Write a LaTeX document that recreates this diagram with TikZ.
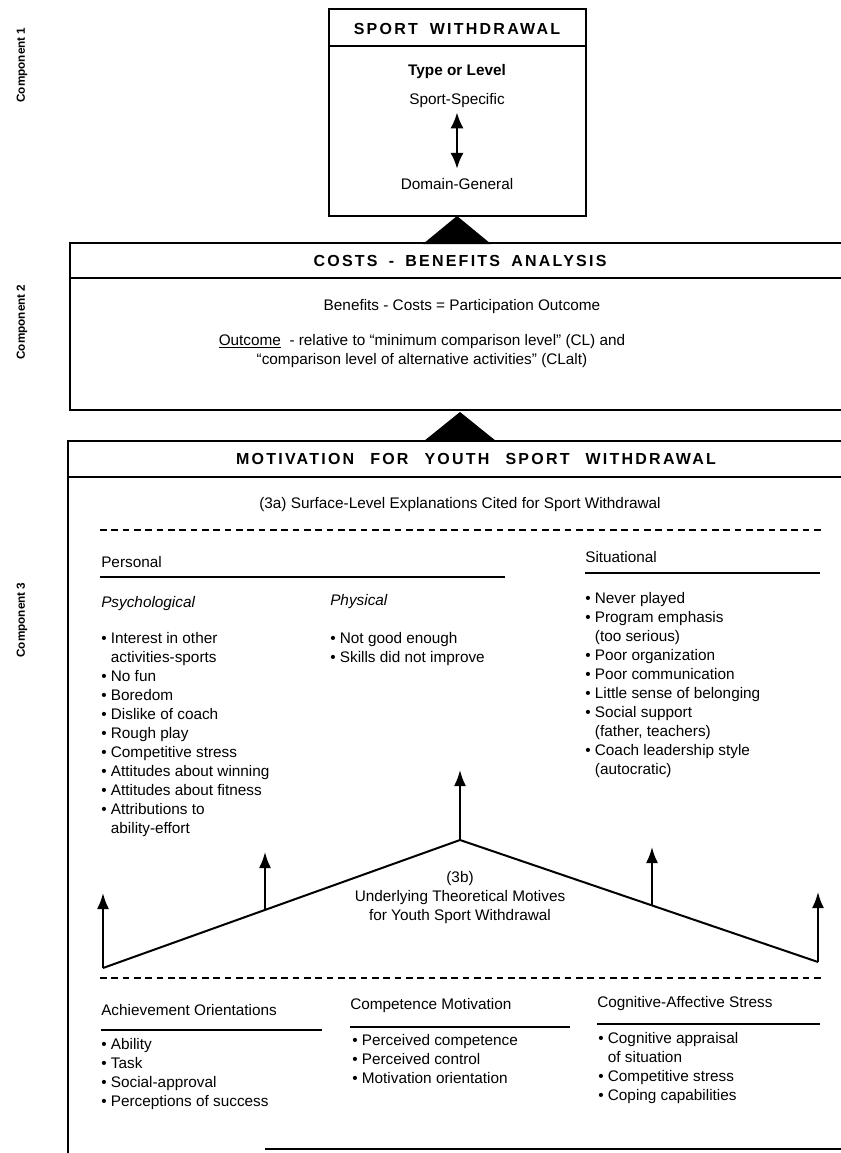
\documentclass[tikz,border=0pt]{standalone}
\usepackage{fontspec}
\setmainfont{Liberation Sans}
\usetikzlibrary{arrows.meta,calc}
\newcommand{\bl}{•\ }
\newcommand{\ind}{\phantom{•\ }}
\newcommand{\wsp}[1]{\hspace{#1em}}
\begin{document}
\begin{tikzpicture}[x=0.75pt,y=-0.75pt,
 body/.style={font=\fontsize{11.5}{14.25}\selectfont, inner sep=0pt, align=left},
 cbody/.style={body, align=center},
 head/.style={font=\fontsize{12}{15}\selectfont\bfseries\addfontfeature{LetterSpace=14}, inner sep=0pt},
 comp/.style={font=\fontsize{8.8}{10}\selectfont\bfseries, rotate=90, inner sep=0pt},
 frame/.style={line width=1.3pt},
 rule/.style={line width=1.1pt},
 dashrule/.style={line width=1.1pt, dash pattern=on 5pt off 3.5pt},
 tent/.style={line width=1.5pt},
 up/.style={line width=1.5pt, -{Latex[length=12pt,width=9pt]}},
 wedge/.style={fill=black}
]
\useasboundingbox (0,0) rectangle (841,1153);

% component labels
\node[comp] (c1) at (22,65) {Component 1};
\node[comp] (c2) at (22,322) {Component 2};
\node[comp] (c3) at (22,620) {Component 3};

% ---------- component 1 box
\draw[frame] (329,9) rectangle (586,216);
\draw[rule] (329,46) -- (586,46);
\node[head] (sw) at (457,29) {SPORT\wsp{0.75}WITHDRAWAL};
\node[body, font=\fontsize{11.5}{14}\selectfont\bfseries] (tl) at (457,72) {Type or Level};
\node[body] (ss) at (457,101) {Sport-Specific};
\node[body] (dg) at (457,184) {Domain-General};
\draw[line width=1.8pt, {Latex[length=12pt,width=10pt]}-{Latex[length=12pt,width=10pt]}, shorten <=3pt, shorten >=7pt] (ss.south) -- (dg.north);

% wedge 1
\fill[wedge] (457,216) -- (491,244) -- (423,244) -- cycle;

% ---------- component 2 box
\draw[frame] (841,243) -- (70,243) -- (70,410) -- (841,410);
\draw[rule] (70,278) -- (841,278);
\node[head] (cb) at (460,261) {COSTS\wsp{0.7}-\wsp{0.7}BENEFITS\wsp{0.7}ANALYSIS};
\node[body] (bc) at (462,307) {Benefits - Costs = Participation Outcome};
\node[cbody] (oc) at (422,351) {\underline{Outcome}\ \ - relative to “minimum comparison level” (CL) and\\“comparison level of alternative activities” (CLalt)};

% wedge 2
\fill[wedge] (460,412) -- (496,441) -- (424,441) -- cycle;

% ---------- component 3 box
\draw[frame] (841,441) -- (68,441) -- (68,1153);
\draw[rule] (68,477) -- (841,477);
\draw[frame] (265,1149) -- (841,1149);
\node[head] (mo) at (476,459) {MOTIVATION\wsp{1.0}FOR\wsp{1.0}YOUTH\wsp{1.0}SPORT\wsp{1.0}WITHDRAWAL};
\node[body] (s3a) at (460,505) {(3a) Surface-Level Explanations Cited for Sport Withdrawal};
\draw[dashrule] (100,530) -- (822,530);

\node[body, anchor=west] (pers) at (101,562) {Personal};
\draw[rule] (100,577) -- (505,577);
\node[body, anchor=west] (sit) at (585,557) {Situational};
\draw[rule] (585,573) -- (820,573);

\node[body, anchor=west, font=\fontsize{11.5}{14.25}\selectfont\itshape] (psy) at (101,604) {Psychological};
\node[body, anchor=west, font=\fontsize{11.5}{14.25}\selectfont\itshape] (phy) at (330,602) {Physical};

\node[body, anchor=north west] (psyl) at (101,632) {\bl Interest in other\\\ind activities-sports\\\bl No fun\\\bl Boredom\\\bl Dislike of coach\\\bl Rough play\\\bl Competitive stress\\\bl Attitudes about winning\\\bl Attitudes about fitness\\\bl Attributions to\\\ind ability-effort};
\node[body, anchor=north west] (phyl) at (330,632) {\bl Not good enough\\\bl Skills did not improve};
\node[body, anchor=north west] (sitl) at (585,592) {\bl Never played\\\bl Program emphasis\\\ind (too serious)\\\bl Poor organization\\\bl Poor communication\\\bl Little sense of belonging\\\bl Social support\\\ind (father, teachers)\\\bl Coach leadership style\\\ind (autocratic)};

% ---------- tent (3b)
\coordinate (L) at (103,968);
\coordinate (A) at (460,840);
\coordinate (R) at (818,962);
\coordinate (LM) at (265,910);
\coordinate (RM) at (652,905.5);
\coordinate (Lt) at (103,893);
\coordinate (LMt) at (265,852);
\coordinate (At) at (460,770);
\coordinate (RMt) at (652,847);
\coordinate (Rt) at (818,892);
\draw[tent] (L) -- (A) -- (R);
\draw[up] (L) -- (Lt);
\draw[up] (LM) -- (LMt);
\draw[up] (A) -- (At);
\draw[up] (RM) -- (RMt);
\draw[up] (R) -- (Rt);
\node[cbody] (s3b) at (460,898) {(3b)\\Underlying Theoretical Motives\\for Youth Sport Withdrawal};

\draw[dashrule] (100,978) -- (822,978);

\node[body, anchor=west] (ach) at (101,1010) {Achievement Orientations};
\draw[rule] (101,1030) -- (322,1030);
\node[body, anchor=west] (com) at (350,1006) {Competence Motivation};
\draw[rule] (350,1027) -- (570,1027);
\node[body, anchor=west] (cog) at (597,1004) {Cognitive-Affective Stress};
\draw[rule] (597,1024) -- (820,1024);

\node[body, anchor=north west] (achl) at (101,1038) {\bl Ability\\\bl Task\\\bl Social-approval\\\bl Perceptions of success};
\node[body, anchor=north west] (coml) at (352,1034) {\bl Perceived competence\\\bl Perceived control\\\bl Motivation orientation};
\node[body, anchor=north west] (cogl) at (598,1032) {\bl Cognitive appraisal\\\ind of situation\\\bl Competitive stress\\\bl Coping capabilities};
\end{tikzpicture}
\end{document}
